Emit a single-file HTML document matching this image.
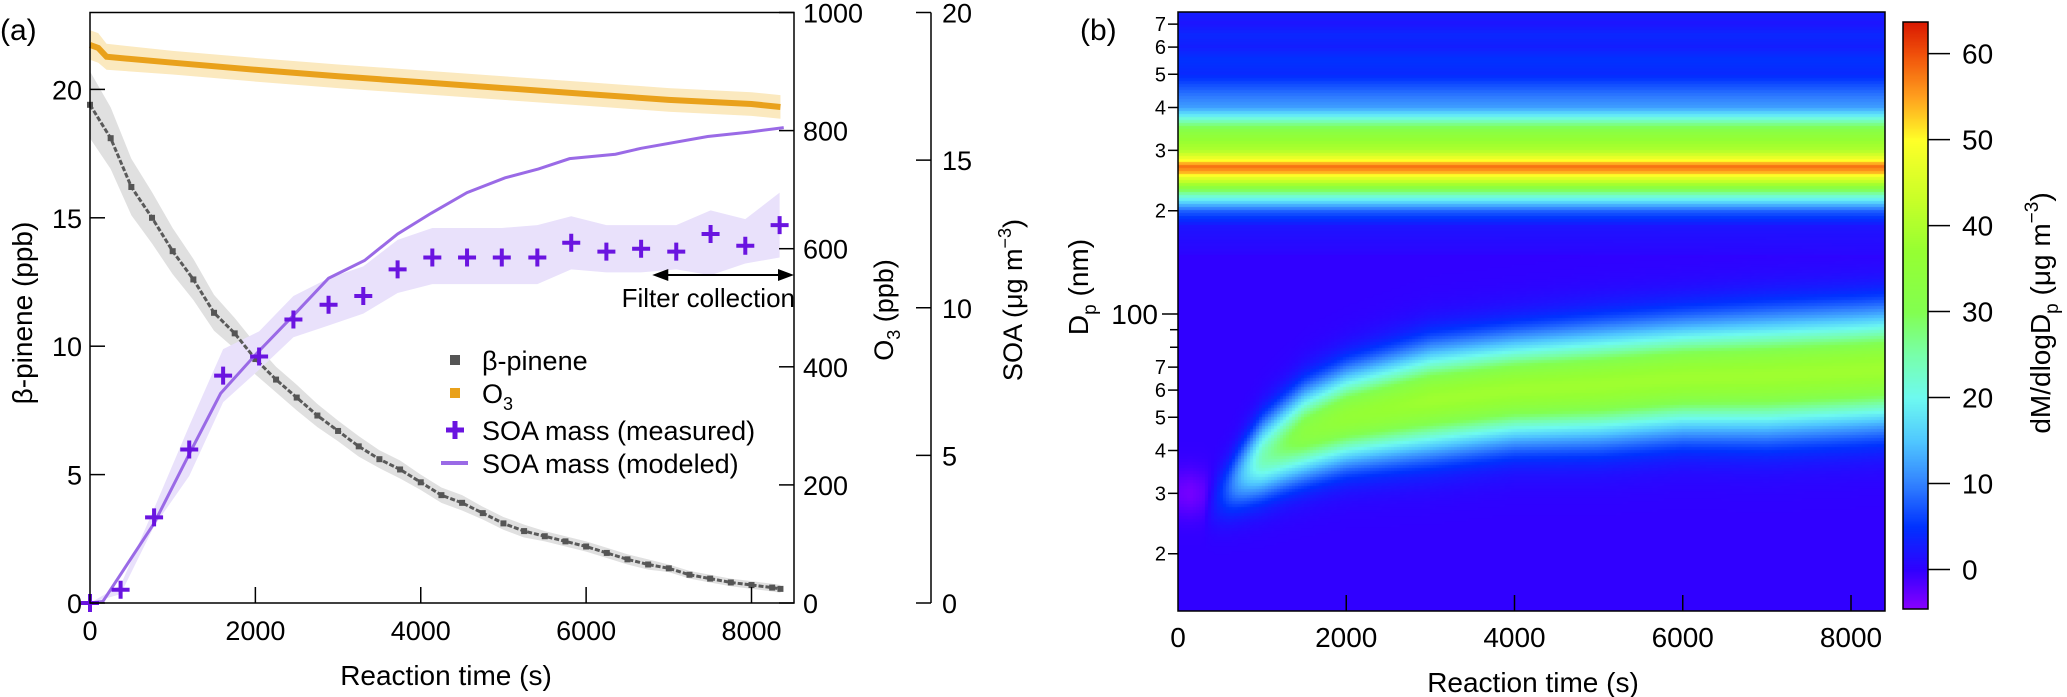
<!DOCTYPE html>
<html><head><meta charset="utf-8">
<style>
html,body{margin:0;padding:0;background:#fff;}
#wrap{position:relative;width:2067px;height:697px;overflow:hidden;font-family:"Liberation Sans",Arial,sans-serif;}
canvas{position:absolute;}
svg{position:absolute;left:0;top:0;}
</style></head>
<body>
<div id="wrap">
<canvas id="heat" style="left:1178px;top:12px;" width="707" height="599"></canvas>
<canvas id="cbar" style="left:1903px;top:22px;" width="25" height="587"></canvas>
<svg id="svg" width="2067" height="697"></svg>
</div>
<script>
// ---- Panel (a) data ----
const betaT=[0,250,500,750,1000,1250,1500,1750,2000,2250,2500,2750,3000,3250,3500,3750,4000,4250,4500,4750,5000,5250,5500,5750,6000,6250,6500,6750,7000,7250,7500,7750,8000,8250,8350];
const betaV=[19.4,18.1,16.2,15.0,13.7,12.6,11.3,10.5,9.5,8.7,8.0,7.3,6.7,6.1,5.6,5.2,4.7,4.2,3.9,3.5,3.1,2.8,2.6,2.4,2.2,1.95,1.7,1.5,1.35,1.1,0.95,0.8,0.7,0.6,0.55];
const betaErr=[1.3,1.2,1.1,1.0,0.9,0.8,0.7,0.6,0.6,0.5,0.5,0.45,0.4,0.4,0.35,0.35,0.3,0.3,0.3,0.25,0.25,0.25,0.2,0.2,0.2,0.2,0.2,0.2,0.15,0.15,0.15,0.15,0.15,0.15,0.15];
const o3T=[0,100,200,1000,2000,3000,4000,5000,6000,7000,8000,8350];
const o3V=[945,940,925,915,903,892,882,872,862,852,845,840];
const o3Err=[25,25,22,20,20,20,20,20,20,20,20,20];
const soaT=[0,370,775,1200,1610,2045,2460,2885,3305,3720,4140,4560,4980,5410,5820,6245,6665,7090,7505,7925,8340];
const soaV=[0,0.45,2.9,5.2,7.7,8.35,9.6,10.1,10.4,11.3,11.7,11.7,11.7,11.7,12.2,11.9,12.0,11.9,12.5,12.1,12.8];
const soaLow=[0,0.3,2.6,4.3,6.8,7.9,9.0,9.4,9.8,10.5,10.8,10.8,10.8,10.8,11.3,11.2,11.2,11.3,11.1,11.5,11.7];
const soaHigh=[0,0.6,3.2,6.0,8.6,9.2,10.4,11.0,11.4,12.3,12.7,12.7,12.7,12.8,13.1,12.8,12.8,12.8,13.3,13.0,13.9];
const modT=[0,155,775,1210,1580,2015,2480,2885,3320,3720,4125,4560,5020,5425,5800,6355,6665,7470,7970,8390];
const modV=[0,0.05,2.7,5.1,7.1,8.45,9.8,11.0,11.6,12.5,13.2,13.9,14.4,14.7,15.05,15.2,15.4,15.8,15.95,16.1];
const xTicksA=[0,2000,4000,6000,8000];
const betaTicks=[0,5,10,15,20];
const o3Ticks=[0,200,400,600,800,1000];
const soaTicks=[0,5,10,15,20];
// ---- Panel (b) data ----
const hmTimes=[0,300,600,1000,1500,2000,3000,4000,5000,6000,7000,8000,8400];
const hmModeDp=[25,27,31,38,45,50,56,60,62,65,66,68,69];
const hmModeAmp=[0,0,8,24,33,36,38,38,38,38,38,38,38];
const hmModeSig=[0.05,0.05,0.06,0.075,0.085,0.09,0.1,0.1,0.105,0.105,0.11,0.11,0.11];
const blobT=[0,150,300,450,600];
const blobAmp=[-3,-3.5,-2.5,-1,0];
const bandDp=[150,180,200,210,220,230,240,250,260,270,280,290,300,320,340,360,380,400,450,500,550,600,650,700,760];
const bandV=[0.5,2,8,15,22,30,40,47,55,58,50,45,40,37,33,26,18,12,8,4,5,3,4,2,3];
const cbTicks=[0,10,20,30,40,50,60];
const xTicksB=[0,2000,4000,6000,8000];
const dpMajor=[100];
const dpMinor=[20,30,40,50,60,70,200,300,400,500,600,700];

const NS="http://www.w3.org/2000/svg";
const svg=document.getElementById('svg');
function el(tag,attrs,parent){const e=document.createElementNS(NS,tag);for(const k in attrs)e.setAttribute(k,attrs[k]);(parent||svg).appendChild(e);return e;}
function txt(s,x,y,size,anchor,parent){const t=el('text',{x:x,y:y,'font-size':size,'text-anchor':anchor||'middle','font-family':'Liberation Sans, Arial, sans-serif',fill:'#000'},parent);t.textContent=s;return t;}
function interp(xs,ys,x){if(x<=xs[0])return ys[0];for(let i=1;i<xs.length;i++){if(x<=xs[i]){const f=(x-xs[i-1])/(xs[i]-xs[i-1]);return ys[i-1]+f*(ys[i]-ys[i-1]);}}return ys[ys.length-1];}

const AL=90,AR=794,AT=12.5,AB=603;
const xa=t=>AL+t*(751.5-90)/8000;
const yL=v=>AB-v*(603-89.4)/20;
const yO=v=>AB-v*(AB-AT)/1000;
const yS=v=>AB-v*(AB-AT)/20;

let pts=o3T.map((t,i)=>xa(t)+','+yO(o3V[i]+o3Err[i])).concat(o3T.map((t,i)=>xa(t)+','+yO(o3V[i]-o3Err[i])).reverse());
let e=el('polygon',{points:pts.join(' '),fill:'#fbe9bf'});


pts=betaT.map((t,i)=>xa(t)+','+yL(betaV[i]+betaErr[i])).concat(betaT.map((t,i)=>xa(t)+','+yL(betaV[i]-betaErr[i])).reverse());
e=el('polygon',{points:pts.join(' '),fill:'#e0e0e0'});


pts=soaT.map((t,i)=>xa(t)+','+yS(soaHigh[i])).concat(soaT.map((t,i)=>xa(t)+','+yS(soaLow[i])).reverse());
e=el('polygon',{points:pts.join(' '),fill:'#e9e1fb'});


e=el('polyline',{points:o3T.map((t,i)=>xa(t)+','+yO(o3V[i])).join(' '),fill:'none',stroke:'#e9a11b','stroke-width':6});


e=el('polyline',{points:betaT.map((t,i)=>xa(t)+','+yL(betaV[i])).join(' '),fill:'none',stroke:'#5a5a5a','stroke-width':3,'stroke-dasharray':'5 2'});


betaT.forEach((t,i)=>{
 const r=el('rect',{x:xa(t)-3,y:yL(betaV[i])-3,width:6,height:6,fill:'#555'});
 
 
});
e=el('polyline',{points:modT.map((t,i)=>xa(t)+','+yS(modV[i])).join(' '),fill:'none',stroke:'#9a6ae6','stroke-width':3});


soaT.forEach((t,i)=>{
 const x=xa(t),y=yS(soaV[i]);
 const p=el('path',{d:`M${x-9},${y}H${x+9}M${x},${y-9}V${y+9}`,stroke:'#6a14e0','stroke-width':4,fill:'none'});
 
 
});
e=el('rect',{x:AL,y:AT,width:AR-AL,height:AB-AT,fill:'none',stroke:'#000','stroke-width':1.5});


xTicksA.forEach(v=>{
 const x=xa(v);
 if(v>0){const l=el('line',{x1:x,x2:x,y1:AB,y2:AB-16,stroke:'#000','stroke-width':1.5});}
 const t=txt(String(v),x,640,27);
 
 
});
betaTicks.forEach(v=>{
 const y=yL(v);
 const l=el('line',{x1:AL,x2:AL+15,y1:y,y2:y,stroke:'#000','stroke-width':1.5});
 
 
 const t=txt(String(v),82,y+10,27,'end');
 
 
});
o3Ticks.forEach(v=>{
 const y=yO(v);
 const l=el('line',{x1:AR-15,x2:AR,y1:y,y2:y,stroke:'#000','stroke-width':1.5});
 
 
 const t=txt(String(v),803,y+10,27,'start');
 
 
});
e=el('line',{x1:931,x2:931,y1:AT,y2:AB,stroke:'#000','stroke-width':1.5});


soaTicks.forEach(v=>{
 const y=yS(v);
 const l=el('line',{x1:916,x2:931,y1:y,y2:y,stroke:'#000','stroke-width':1.5});
 
 
 const t=txt(String(v),942,y+10,27,'start');
 
 
});
e=txt('Reaction time (s)',446,685,28);


let g=el('g',{transform:'translate(32,313) rotate(-90)'});
e=txt('β-pinene (ppb)',0,0,28,'middle',g);


g=el('g',{transform:'translate(893,310) rotate(-90)'});
e=el('text',{x:0,y:0,'font-size':27,'text-anchor':'middle','font-family':'Liberation Sans, Arial, sans-serif'},g);
e.innerHTML='O<tspan font-size="18" dy="7">3</tspan><tspan dy="-7"> (ppb)</tspan>';


g=el('g',{transform:'translate(1022,300) rotate(-90)'});
e=el('text',{x:0,y:0,'font-size':27,'text-anchor':'middle','font-family':'Liberation Sans, Arial, sans-serif'},g);
e.innerHTML='SOA (μg m<tspan font-size="18" dy="-11">−3</tspan><tspan dy="11">)</tspan>';


e=txt('(a)',0,40,30,'start');


e=el('path',{d:`M${xa(6800)+14},275H${AR-14}`,stroke:'#000','stroke-width':2});


e=el('path',{d:`M${xa(6800)},275l16,-6v12zM${AR},275l-16,-6v12z`,fill:'#000'});


e=txt('Filter collection',795,307,26,'end');


e=el('rect',{x:450,y:355,width:10,height:10,fill:'#555'});


e=txt('β-pinene',482,370,27,'start');


e=el('rect',{x:450,y:388,width:10,height:10,fill:'#e9a11b'});


e=el('text',{x:482,y:403,'font-size':27,'font-family':'Liberation Sans, Arial, sans-serif'});
e.innerHTML='O<tspan font-size="18" dy="7">3</tspan>';


e=el('path',{d:'M446,430H464M455,421V439',stroke:'#6a14e0','stroke-width':5});


e=txt('SOA mass (measured)',482,440,27,'start');


e=el('line',{x1:441,x2:468,y1:463,y2:463,stroke:'#9a6ae6','stroke-width':4});


e=txt('SOA mass (modeled)',482,473,27,'start');



// ---- Panel (b) ----
const BL=1178,BR=1885,BT=12,BB=611;
const xb=t=>BL+t*(1851-1178)/8000;
const DEC=343;
const yb=d=>314-Math.log10(d/100)*DEC;
const cbY=v=>569.5-v*(569.5-53.6)/60;
const cstops=[[-4.6,[138,0,255]],[0,[48,0,255]],[5,[0,50,255]],[10,[50,130,255]],[15,[80,200,255]],[20,[110,250,240]],[25,[120,255,170]],[30,[130,255,80]],[37,[150,255,50]],[43,[200,255,40]],[50,[255,255,40]],[55,[255,160,30]],[60,[240,80,10]],[64,[215,20,0]]];
function cmap(v){if(v<=cstops[0][0])return cstops[0][1];for(let i=1;i<cstops.length;i++){if(v<=cstops[i][0]){const f=(v-cstops[i-1][0])/(cstops[i][0]-cstops[i-1][0]);const a=cstops[i-1][1],b=cstops[i][1];return[0,1,2].map(k=>Math.round(a[k]+f*(b[k]-a[k])));}}return cstops[cstops.length-1][1];}
const hc=document.getElementById('heat'),hx=hc.getContext('2d');
const W=hc.width,H=hc.height;
for(let px=0;px<W;px+=3){
 const t=(px+1.5)/(1851-1178)*8000;
 const md=interp(hmTimes,hmModeDp,t),ma=interp(hmTimes,hmModeAmp,t),ms=interp(hmTimes,hmModeSig,t);
 const ba=interp(blobT,blobAmp,t);
 for(let py=0;py<H;py+=3){
  const y=BT+py+1.5;
  const d=100*Math.pow(10,(314-y)/DEC);
  let v=0;
  if(d>=bandDp[0])v+=interp(bandDp,bandV,d);
  const z=(Math.log10(d)-Math.log10(md))/ms;
  v+=ma*Math.exp(-0.5*z*z);
  const zb=(Math.log10(d)-Math.log10(30))/0.05;
  v+=ba*Math.exp(-0.5*zb*zb);
  const c=cmap(v);
  hx.fillStyle=`rgb(${c[0]},${c[1]},${c[2]})`;
  hx.fillRect(px,py,3,3);
 }
}
const cc=document.getElementById('cbar'),cx=cc.getContext('2d');
for(let py=0;py<cc.height;py++){const v=(569.5-(22+py))/((569.5-53.6)/60);const c=cmap(v);cx.fillStyle=`rgb(${c[0]},${c[1]},${c[2]})`;cx.fillRect(0,py,25,1);}
e=el('rect',{x:1903,y:22,width:25,height:587,fill:'none',stroke:'#000','stroke-width':1.5});


cbTicks.forEach(v=>{
 const y=cbY(v);
 const l=el('line',{x1:1928,x2:1950,y1:y,y2:y,stroke:'#000','stroke-width':1.5});
 
 
 const t=txt(String(v),1962,y+10,28,'start');
 
 
});
e=el('rect',{x:BL,y:BT,width:BR-BL,height:BB-BT,fill:'none',stroke:'#000','stroke-width':1.5});


xTicksB.forEach(v=>{
 const x=xb(v);
 if(v>0){const l=el('line',{x1:x,x2:x,y1:BB,y2:BB-16,stroke:'#000','stroke-width':1.5});}
 const t=txt(String(v),x,647,28);
 
 
});
dpMajor.forEach(v=>{
 const y=yb(v);
 const l=el('line',{x1:BL-16,x2:BL,y1:y,y2:y,stroke:'#000','stroke-width':1.5});
 
 
 const t=txt(String(v),BL-20,y+10,28,'end');
 
 
});
dpMinor.forEach(v=>{
 const y=yb(v);
 const l=el('line',{x1:BL-10,x2:BL,y1:y,y2:y,stroke:'#000','stroke-width':1.5});
 
 
 const lab=String(v).charAt(0);
 const t=txt(lab,BL-12,y+7,20,'end');
 
 
});
[80,90].forEach(v=>{const y=yb(v);const l=el('line',{x1:BL-8,x2:BL,y1:y,y2:y,stroke:'#000','stroke-width':1.5});});
e=txt('Reaction time (s)',1533,692,28);


g=el('g',{transform:'translate(1088,287) rotate(-90)'});
e=el('text',{x:0,y:0,'font-size':28,'text-anchor':'middle','font-family':'Liberation Sans, Arial, sans-serif'},g);
e.innerHTML='D<tspan font-size="19" dy="8">p</tspan><tspan dy="-8"> (nm)</tspan>';


g=el('g',{transform:'translate(2050,313) rotate(-90)'});
e=el('text',{x:0,y:0,'font-size':28,'text-anchor':'middle','font-family':'Liberation Sans, Arial, sans-serif'},g);
e.innerHTML='dM/dlogD<tspan font-size="19" dy="8">p</tspan><tspan dy="-8"> (μg m</tspan><tspan font-size="19" dy="-12">−3</tspan><tspan dy="12">)</tspan>';


e=txt('(b)',1080,40,30,'start');


</script>
</body></html>
